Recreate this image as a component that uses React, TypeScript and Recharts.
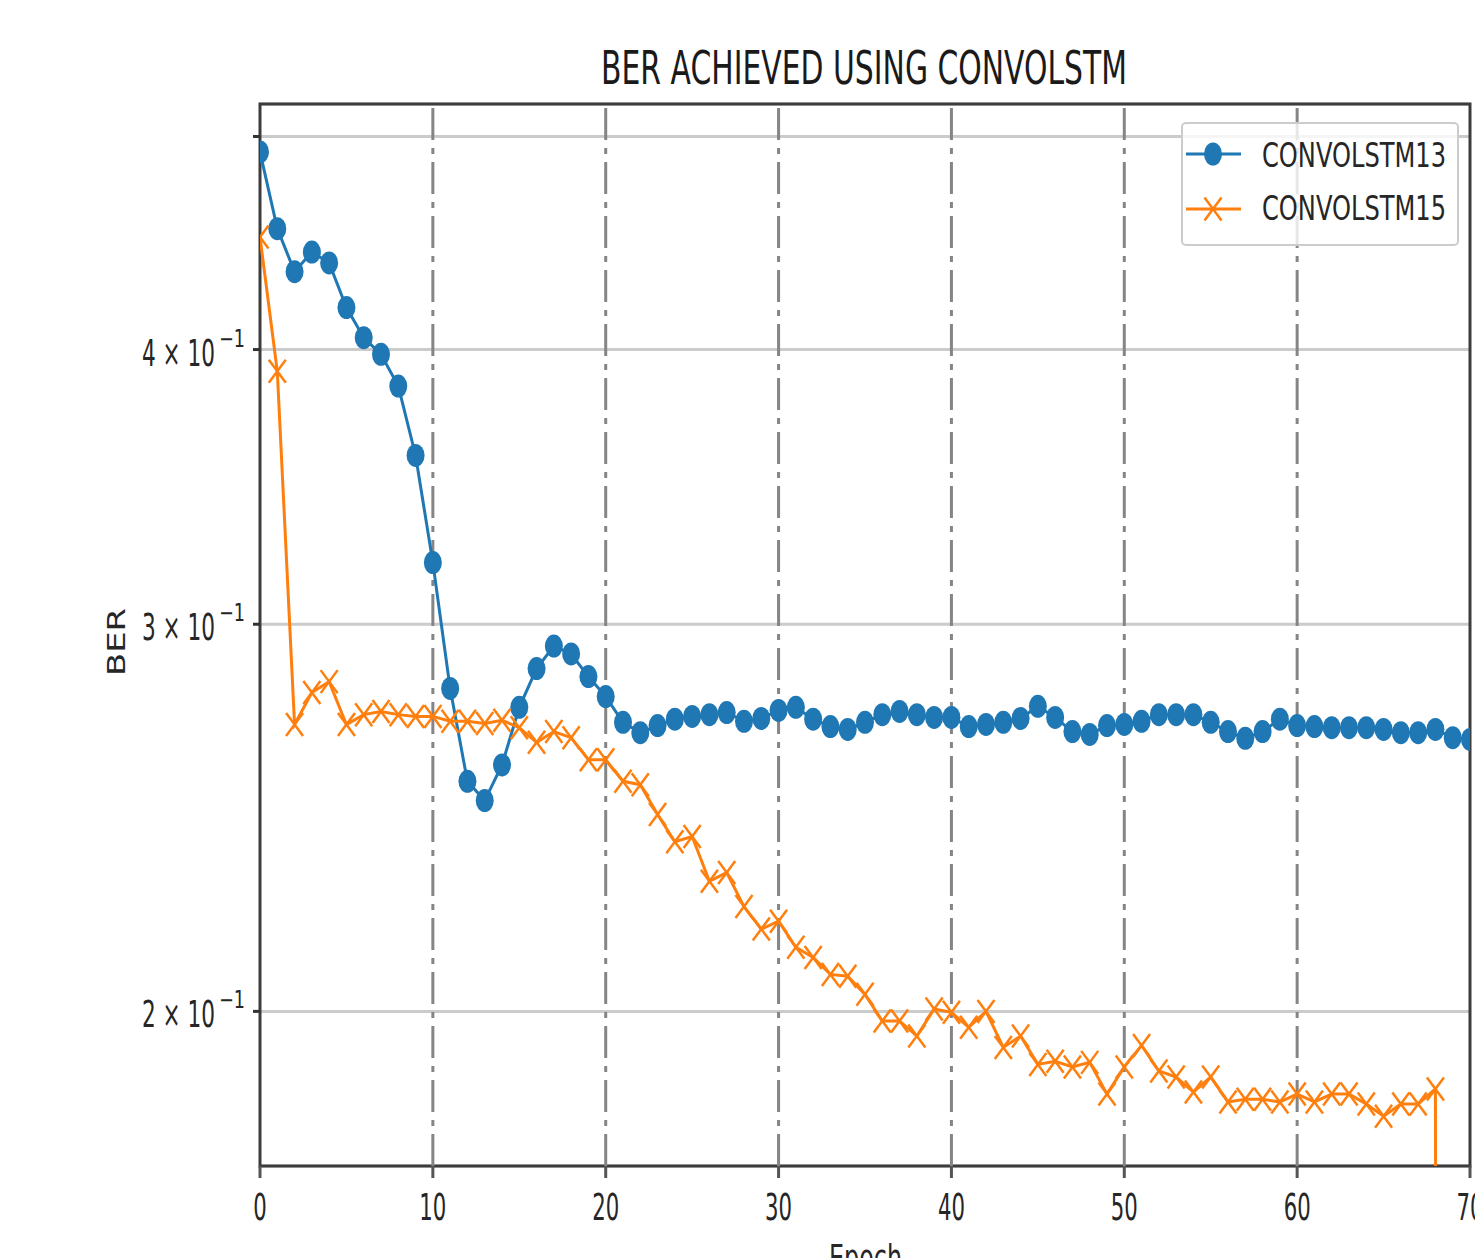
import React from "react";
import {
  LineChart, Line, XAxis, YAxis, CartesianGrid, ReferenceLine, ReferenceArea,
} from "recharts";

// epochs on the x axis
const EPOCHS = [
  0, 1, 2, 3, 4, 5, 6, 7, 8, 9,
  10, 11, 12, 13, 14, 15, 16, 17, 18, 19,
  20, 21, 22, 23, 24, 25, 26, 27, 28, 29,
  30, 31, 32, 33, 34, 35, 36, 37, 38, 39,
  40, 41, 42, 43, 44, 45, 46, 47, 48, 49,
  50, 51, 52, 53, 54, 55, 56, 57, 58, 59,
  60, 61, 62, 63, 64, 65, 66, 67, 68, 69,
  70,
];

const CONVOLSTM13 = [
  0.492, 0.454, 0.434, 0.443, 0.438, 0.418, 0.405, 0.398, 0.385, 0.358,
  0.320, 0.2805, 0.2545, 0.2494, 0.2589, 0.275, 0.2864, 0.2932, 0.2908, 0.284,
  0.2781, 0.2707, 0.2678, 0.2698, 0.2716, 0.2724, 0.2729, 0.2735, 0.271, 0.2718,
  0.2741, 0.275, 0.2716, 0.2695, 0.2687, 0.2707, 0.2729, 0.2738, 0.2729, 0.2721,
  0.2721, 0.2695, 0.2701, 0.2707, 0.2718, 0.2753, 0.2721, 0.2681, 0.2673, 0.2698,
  0.2701, 0.271, 0.2729, 0.2729, 0.2729, 0.2707, 0.2681, 0.2662, 0.2681, 0.2716,
  0.2698, 0.2695, 0.2692, 0.2692, 0.2692, 0.2687, 0.2678, 0.2678, 0.2687, 0.2664,
  0.2659,
];

// last two epochs fall to (near) zero -> line drops off the bottom
const CONVOLSTM15 = [
  0.45, 0.391, 0.2701, 0.2793, 0.2825, 0.2701, 0.2729, 0.2738, 0.2729, 0.2724,
  0.2724, 0.271, 0.271, 0.2704, 0.2713, 0.2692, 0.2651, 0.2681, 0.2664, 0.2603,
  0.2603, 0.2545, 0.2536, 0.2458, 0.2389, 0.2402, 0.2292, 0.2313, 0.2232, 0.218,
  0.2198, 0.2139, 0.2116, 0.2079, 0.2075, 0.2036, 0.198, 0.198, 0.1949, 0.2005,
  0.1998, 0.1967, 0.2, 0.1926, 0.1949, 0.1892, 0.1898, 0.1887, 0.1896, 0.1834,
  0.1887, 0.193, 0.1879, 0.1867, 0.1838, 0.1867, 0.1819, 0.1824, 0.1824, 0.1819,
  0.1834, 0.1819, 0.1834, 0.1834, 0.1815, 0.1792, 0.1815, 0.1815, 0.1844, 0.000001,
  0.000001,
];

const X_TICKS = [0, 10, 20, 30, 40, 50, 60, 70];
const Y_TICKS = [0.2, 0.3, 0.4, 0.5];
const Y_TICK_BASE = ["2 × 10", "3 × 10", "4 × 10", ""];
const Y_TICK_EXP = ["−1", "−1", "−1", ""];
const Y_DOMAIN = [0.1701, 0.5173];

const BLUE = "#1f77b4";
const ORANGE = "#ff7f0e";
const FONT = "DejaVu Sans";
const TEXT = "#262626";

const data = EPOCHS.map((e, i) => ({
  epoch: e,
  c13: CONVOLSTM13[i],
  c15: CONVOLSTM15[i],
}));

// plot box, used to clip markers that sit on the frame
const PLOT = { x: 260, y: 104, w: 1210, h: 1062 };

function CircleDot(props: any) {
  const { cx, cy, index } = props;
  if (cx == null || cy == null || !isFinite(cy) || cy > 1180) return <g key={index} />;
  const cid = `cdot-${index}`;
  return (
    <g key={index}>
      <defs>
        <clipPath id={cid}>
          <rect x={PLOT.x} y={PLOT.y} width={PLOT.w} height={PLOT.h} />
        </clipPath>
      </defs>
      <ellipse cx={cx} cy={cy} rx={9} ry={11.5} fill={BLUE} clipPath={`url(#${cid})`} />
    </g>
  );
}

function CrossDot(props: any) {
  const { cx, cy, index } = props;
  if (cx == null || cy == null || !isFinite(cy) || cy > 1180) return <g key={index} />;
  return (
    <g key={index} stroke={ORANGE} strokeWidth={2.5}>
      <line x1={cx - 8.5} y1={cy - 11.5} x2={cx + 8.5} y2={cy + 11.5} />
      <line x1={cx - 8.5} y1={cy + 11.5} x2={cx + 8.5} y2={cy - 11.5} />
    </g>
  );
}

function XTick(props: any) {
  const { x, y, payload } = props;
  const label = String(payload.value);
  return (
    <text
      x={x} y={y + 40} textAnchor="middle" fontFamily={FONT} fontSize={38} fill={TEXT}
      textLength={label.length * 13.5} lengthAdjust="spacingAndGlyphs"
    >
      {label}
    </text>
  );
}

function YTick(props: any) {
  const { x, y, payload } = props;
  const i = Y_TICKS.indexOf(payload.value);
  if (i < 0 || !Y_TICK_BASE[i]) return <g />;
  const right = x - 2;
  return (
    <g fontFamily={FONT} fill={TEXT}>
      <text x={right - 30 - 73} y={y + 16} fontSize={38} textLength={73} lengthAdjust="spacingAndGlyphs">
        {Y_TICK_BASE[i]}
      </text>
      <text x={right - 26} y={y - 3} fontSize={24} textLength={26} lengthAdjust="spacingAndGlyphs">
        {Y_TICK_EXP[i]}
      </text>
    </g>
  );
}

export default function App() {
  return (
    <div style={{ position: "absolute", left: 0, top: 0, width: 1475, height: 1258, overflow: "hidden", background: "#fff" }}>
      <LineChart
        width={1475}
        height={1258}
        data={data}
        margin={{ top: 104, right: 5, bottom: 32, left: 110 }}
      >
        <CartesianGrid vertical={false} stroke="#cbcbcb" strokeWidth={3} />
        {X_TICKS.slice(1, -1).map((t) => (
          <ReferenceLine key={t} x={t} stroke="#858585" strokeWidth={3} strokeDasharray="32 8 6 8" />
        ))}
        <XAxis
          dataKey="epoch" type="number" domain={[0, 70]} ticks={X_TICKS} allowDataOverflow
          axisLine={false} tickLine={{ stroke: "#555", strokeWidth: 3 }} tickSize={12} tickMargin={2}
          tick={<XTick />} height={60} interval={0}
        />
        <YAxis
          scale="log" domain={Y_DOMAIN} ticks={Y_TICKS} allowDataOverflow
          axisLine={false} tickLine={{ stroke: "#333", strokeWidth: 3 }} tickSize={7} tickMargin={6}
          tick={<YTick />} width={150} interval={0}
        />
        <Line
          dataKey="c13" stroke={BLUE} strokeWidth={3} dot={CircleDot}
          isAnimationActive={false} activeDot={false}
        />
        <Line
          dataKey="c15" stroke={ORANGE} strokeWidth={3} dot={CrossDot}
          isAnimationActive={false} activeDot={false}
        />
        <ReferenceArea
          x1={0} x2={70} y1={Y_DOMAIN[0]} y2={Y_DOMAIN[1]}
          fill="none" fillOpacity={0} stroke="#3c3c3c" strokeWidth={3}
        />
      </LineChart>

      <svg
        width={1475} height={1258}
        style={{ position: "absolute", left: 0, top: 0, pointerEvents: "none" }}
        fontFamily={FONT}
      >
        <text x={601} y={84} fontSize={46} fill="#1a1a1a" textLength={526} lengthAdjust="spacingAndGlyphs">
          BER ACHIEVED USING CONVOLSTM
        </text>
        <text
          x={125} y={642} fontSize={25} fill={TEXT} textAnchor="middle"
          transform="rotate(-90 125 642)" textLength={68} lengthAdjust="spacingAndGlyphs"
        >
          BER
        </text>
        <text x={829} y={1271} fontSize={38} fill={TEXT} textLength={73} lengthAdjust="spacingAndGlyphs">
          Epoch
        </text>

        <rect x={1182} y={123} width={276} height={122} rx={4} fill="#fff" fillOpacity={0.8} stroke="#cccccc" strokeWidth={2} />
        <line x1={1186} y1={154} x2={1241} y2={154} stroke={BLUE} strokeWidth={3} />
        <ellipse cx={1213} cy={154} rx={9} ry={11.5} fill={BLUE} />
        <text x={1262} y={167} fontSize={34} fill={TEXT} textLength={184} lengthAdjust="spacingAndGlyphs">
          CONVOLSTM13
        </text>
        <line x1={1186} y1={209} x2={1241} y2={209} stroke={ORANGE} strokeWidth={3} />
        <g stroke={ORANGE} strokeWidth={2.5}>
          <line x1={1204.5} y1={197.5} x2={1221.5} y2={220.5} />
          <line x1={1204.5} y1={220.5} x2={1221.5} y2={197.5} />
        </g>
        <text x={1262} y={220} fontSize={34} fill={TEXT} textLength={184} lengthAdjust="spacingAndGlyphs">
          CONVOLSTM15
        </text>
      </svg>
    </div>
  );
}
